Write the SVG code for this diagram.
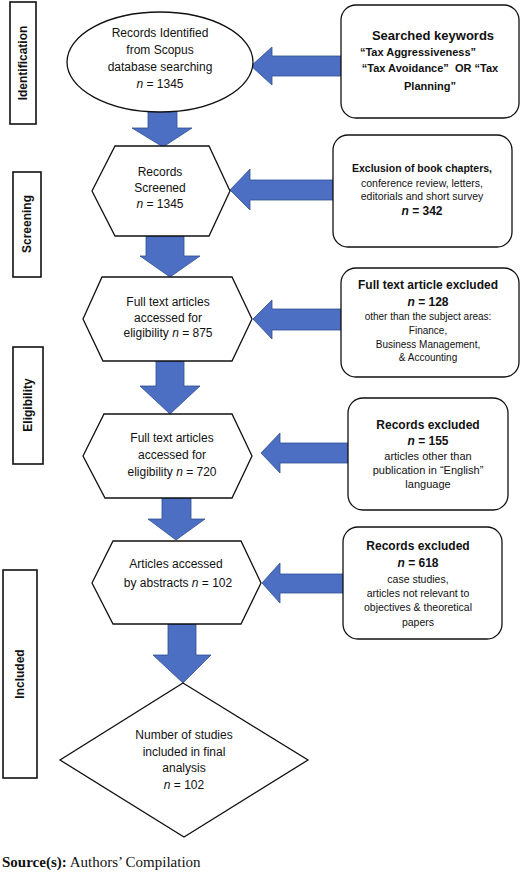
<svg xmlns="http://www.w3.org/2000/svg" width="520" height="872" viewBox="0 0 520 872">
<style>
text{font-family:"Liberation Sans",Arial,sans-serif;fill:#111;text-anchor:middle}
.t{font-size:12px}
.b{font-weight:bold}
.s{font-size:10.5px}
.node{fill:#fff;stroke:#111;stroke-width:1.3}
.lab{fill:#fff;stroke:#111;stroke-width:1.6}
.arr{fill:#4C6FC4;stroke:#2F4F8F;stroke-width:0.8}
.src{font-family:"Liberation Serif","Times New Roman",serif;font-size:15px;text-anchor:start}
</style>
<rect width="520" height="872" fill="#fff"/>
<g id="connectors">
<polygon class="arr" points="341,56 272,56 272,47 251,66 272,85 272,76 341,76"/>
<polygon class="arr" points="333,180 250,180 250,169 230,190 250,210 250,200 333,200"/>
<polygon class="arr" points="341,309 272,309 272,300 253,319 272,339 272,330 341,330"/>
<polygon class="arr" points="348,443 280,443 280,433 261,453 280,473 280,463 348,463"/>
<polygon class="arr" points="343,574 280,574 280,563 262,583 280,603 280,593 343,593"/>
<polygon class="arr" points="148,110 177,110 177,128 192,128 163,147 132,128 148,128"/>
<polygon class="arr" points="146,236 184,236 184,256 200,256 170,277 140,256 146,256"/>
<polygon class="arr" points="156,361 184,361 184,386 200,386 170,414 140,386 156,386"/>
<polygon class="arr" points="162,498 191,498 191,519 205,519 176,540 148,519 162,519"/>
<polygon class="arr" points="168,624 196,624 196,655 211,655 183,683 153,655 168,655"/>
</g>
<g id="stage-identification">
<rect class="lab" x="10" y="2" width="26" height="122"/>
<text class="t b" x="23" y="67" transform="rotate(-90 23 63)">Identification</text>
</g>
<g id="stage-screening">
<rect class="lab" x="13" y="172" width="28" height="105"/>
<text class="t b" x="27" y="228" transform="rotate(-90 27 224)">Screening</text>
</g>
<g id="stage-eligibility">
<rect class="lab" x="13" y="347" width="30" height="117"/>
<text class="t b" x="28" y="409" transform="rotate(-90 28 405)">Eligibility</text>
</g>
<g id="stage-included">
<rect class="lab" x="3" y="570" width="34" height="208"/>
<text class="t b" x="20" y="678" transform="rotate(-90 20 674)">Included</text>
</g>
<g id="n-identified">
<ellipse class="node" cx="160" cy="62" rx="93" ry="50"/>
<text class="t" x="160" y="37">Records Identified</text>
<text class="t" x="160" y="54">from Scopus</text>
<text class="t" x="160" y="71">database searching</text>
<text class="t" x="160" y="88"><tspan font-style="italic">n</tspan> = 1345</text>
</g>
<g id="n-screened">
<polygon class="node" points="92,191 115,146 209,146 230,191 209,236 115,236"/>
<text class="t" x="160" y="176">Records</text>
<text class="t" x="160" y="192">Screened</text>
<text class="t" x="160" y="208"><tspan font-style="italic">n</tspan> = 1345</text>
</g>
<g id="n-fulltext875">
<polygon class="node" points="83,319 102,277 232,277 252,319 232,361 103,361"/>
<text class="t" x="168" y="306">Full text articles</text>
<text class="t" x="168" y="322">accessed for</text>
<text class="t" x="168" y="337">eligibility <tspan font-style="italic">n</tspan> = 875</text>
</g>
<g id="n-fulltext720">
<polygon class="node" points="83,456 104,414 232,414 252,456 232,498 105,498"/>
<text class="t" x="172" y="442">Full text articles</text>
<text class="t" x="172" y="459">accessed for</text>
<text class="t" x="172" y="476">eligibility <tspan font-style="italic">n</tspan> = 720</text>
</g>
<g id="n-abstracts">
<polygon class="node" points="92,583 113,541 241,541 261,583 241,624 113,624"/>
<text class="t" x="176" y="568">Articles accessed</text>
<text class="t" x="178" y="587">by abstracts <tspan font-style="italic">n</tspan> = 102</text>
</g>
<g id="n-included">
<polygon class="node" points="183,683 308,760 184,837 60,760"/>
<text class="t" x="184" y="739">Number of studies</text>
<text class="t" x="184" y="756">included in final</text>
<text class="t" x="184" y="772">analysis</text>
<text class="t" x="184" y="789"><tspan font-style="italic">n</tspan> = 102</text>
</g>
<g id="x-keywords">
<rect class="node" x="341" y="5" width="178" height="113" rx="15"/>
<text class="b" font-size="13" x="433" y="40">Searched keywords</text>
<text class="b" font-size="11" x="418" y="56">“Tax Aggressiveness”</text>
<text class="b" font-size="11" x="430" y="72" xml:space="preserve">“Tax Avoidance”  OR “Tax</text>
<text class="b" font-size="11" x="430" y="90">Planning”</text>
</g>
<g id="x-342">
<rect class="node" x="333" y="135" width="179" height="112" rx="15"/>
<text class="b" font-size="10.5" x="422" y="172">Exclusion of book chapters,</text>
<text class="s" x="422" y="187">conference review, letters,</text>
<text class="s" x="422" y="200">editorials and short survey</text>
<text class="t b" x="422" y="215"><tspan font-style="italic">n</tspan> = 342</text>
</g>
<g id="x-128">
<rect class="node" x="341" y="268" width="178" height="109" rx="15"/>
<text class="t b" x="428" y="289">Full text article excluded</text>
<text class="t b" x="428" y="306"><tspan font-style="italic">n</tspan> = 128</text>
<text font-size="10" x="428" y="320">other than the subject areas:</text>
<text font-size="10" x="428" y="334">Finance,</text>
<text font-size="10" x="428" y="348">Business Management,</text>
<text font-size="10" x="428" y="361">&amp; Accounting</text>
</g>
<g id="x-155">
<rect class="node" x="348" y="398" width="160" height="112" rx="15"/>
<text class="t b" x="428" y="429">Records excluded</text>
<text class="t b" x="428" y="445"><tspan font-style="italic">n</tspan> = 155</text>
<text font-size="11" x="428" y="460">articles other than</text>
<text font-size="11" x="428" y="474">publication in “English”</text>
<text font-size="11" x="428" y="488">language</text>
</g>
<g id="x-618">
<rect class="node" x="343" y="527" width="159" height="112" rx="15"/>
<text class="t b" x="418" y="550">Records excluded</text>
<text class="t b" x="418" y="567"><tspan font-style="italic">n</tspan> = 618</text>
<text class="s" x="418" y="583">case studies,</text>
<text class="s" x="418" y="597">articles not relevant to</text>
<text class="s" x="418" y="611">objectives &amp; theoretical</text>
<text class="s" x="418" y="626">papers</text>
</g>
<text class="src" x="2" y="867"><tspan font-weight="bold">Source(s):</tspan> Authors’ Compilation</text>
</svg>
